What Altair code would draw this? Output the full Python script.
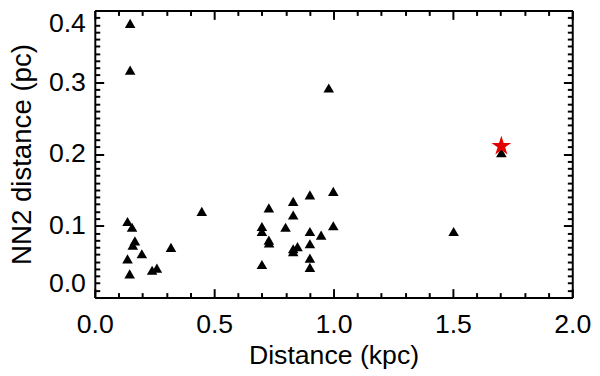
import altair as alt
import pandas as pd

# Triangles (Distance kpc, NN2 distance pc)
tri_x = [0.137, 0.156, 0.168, 0.159, 0.137, 0.197, 0.146, 0.240, 0.260, 0.319,
         0.448,
         0.700, 0.700, 0.700, 0.729, 0.729, 0.730, 0.799, 0.831, 0.831, 0.831,
         0.831, 0.849, 0.901, 0.901, 0.901, 0.901, 0.901, 0.948, 0.999, 0.999,
         1.503, 1.703,
         0.148, 0.148, 0.980]
tri_y = [0.106, 0.098, 0.079, 0.073, 0.054, 0.061, 0.033, 0.038, 0.041, 0.070,
         0.120,
         0.099, 0.092, 0.046, 0.125, 0.080, 0.076, 0.098, 0.134, 0.115, 0.068,
         0.064, 0.071, 0.143, 0.092, 0.075, 0.055, 0.042, 0.087, 0.148, 0.100,
         0.092, 0.202,
         0.382, 0.317, 0.292]

# Highlighted object (red star)
star_x = [1.703]
star_y = [0.211]

x_ticks = [round(i * 0.1, 1) for i in range(21)]
y_ticks = [round(i * 0.01, 2) for i in range(41)]

FONT = "Liberation Sans"
XMAJ = "abs(datum.value*2 - round(datum.value*2)) < 1e-6"
YMAJ = "abs(datum.value*10 - round(datum.value*10)) < 1e-6"
STAR = ("M0,-1L0.2245,-0.309L0.9511,-0.309L0.3633,0.118L0.5878,0.809"
        "L0,0.382L-0.5878,0.809L-0.3633,0.118L-0.9511,-0.309L-0.2245,-0.309Z")

W, H = 484, 291

common = dict(
    tickWidth=2, tickColor="black", domainWidth=2, domainColor="black",
    grid=False, labelOverlap=False,
)

bottom_axis = alt.Axis(
    orient="bottom", values=x_ticks,
    tickSize={"expr": f"({XMAJ}) ? -9 : -5"},
    labelExpr=f"({XMAJ}) ? format(datum.value, '.1f') : ''",
    labelFont=FONT, labelFontSize=27, labelColor="black",
    labelBaseline="alphabetic", labelPadding=44, labelFlush=False,
    title="Distance (kpc)", titleFont=FONT, titleFontSize=27,
    titleFontWeight="normal", titleColor="black",
    titleX=W / 2, titleY=67, titleBaseline="alphabetic", titleAlign="center",
    **common,
)
top_axis = alt.Axis(
    orient="top", values=x_ticks,
    tickSize={"expr": f"({XMAJ}) ? -9 : -5"},
    labels=False, title=None, **common,
)
left_axis = alt.Axis(
    orient="left", values=y_ticks,
    tickSize={"expr": f"({YMAJ}) ? -9 : -5"},
    labelExpr=f"({YMAJ}) ? format(datum.value, '.1f') : ''",
    labelFont=FONT, labelFontSize=27, labelColor="black",
    labelPadding=18.5, labelFlush=True, labelFlushOffset=0,
    title="NN2 distance (pc)", titleFont=FONT, titleFontSize=28,
    titleFontWeight="normal", titleColor="black", titleAngle=270,
    titleX=-65, titleY=H / 2, titleBaseline="alphabetic", titleAlign="center",
    **common,
)
right_axis = alt.Axis(
    orient="right", values=y_ticks,
    tickSize={"expr": f"({YMAJ}) ? -9 : -5"},
    labels=False, title=None, **common,
)

df_tri = pd.DataFrame({"x": tri_x, "y": tri_y})
df_star = pd.DataFrame({"x": star_x, "y": star_y})

xscale = alt.Scale(domain=[0, 2], nice=False, zero=False)
yscale = alt.Scale(domain=[0, 0.4], nice=False, zero=False)

tri = alt.Chart(df_tri).mark_point(
    shape="triangle-up", filled=True, color="black", size=115, opacity=1
).encode(
    x=alt.X("x:Q", scale=xscale, axis=bottom_axis),
    y=alt.Y("y:Q", scale=yscale, axis=left_axis),
)

star = alt.Chart(df_star).mark_point(
    shape=STAR, filled=True, color="#e50000", size=440, opacity=1
).encode(
    x=alt.X("x:Q", scale=xscale, axis=top_axis),
    y=alt.Y("y:Q", scale=yscale, axis=right_axis),
)

chart = alt.layer(tri, star).resolve_axis(
    x="independent", y="independent"
).properties(
    width=W, height=H,
    autosize=alt.AutoSizeParams(type="none"),
    padding={"left": 88, "top": 0, "right": 20, "bottom": 77},
    background="white",
).configure_view(stroke=None)

chart.save("out.html", embed_options={"renderer": "svg", "actions": False})
